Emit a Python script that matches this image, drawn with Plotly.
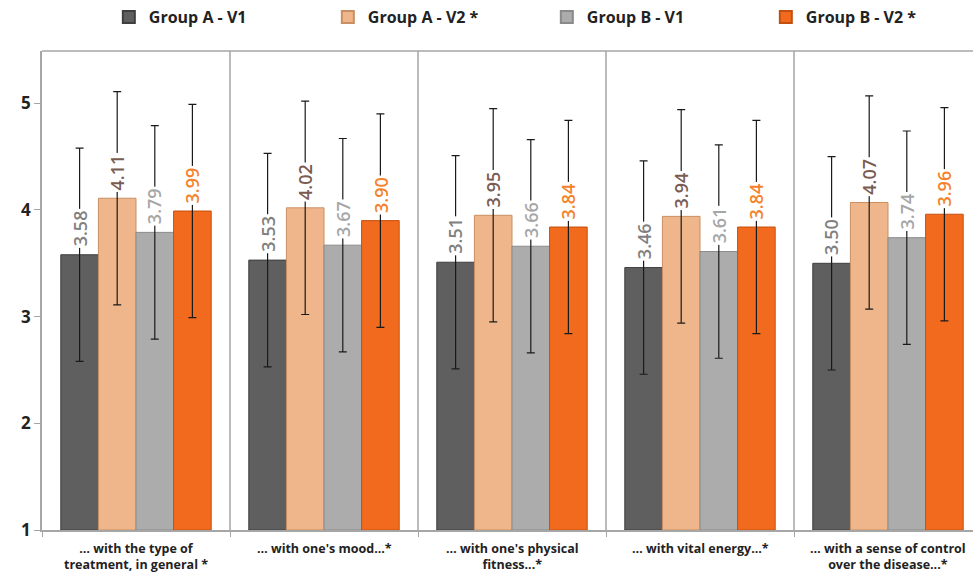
import plotly.graph_objects as go

categories = [
    "… with the type of<br>treatment, in general *",
    "… with one's mood...*",
    "… with one's physical<br>fitness...*",
    "… with vital energy...*",
    "… with a sense of control<br>over the disease...*",
]
series_names = ["Group A - V1", "Group A - V2 *", "Group B - V1", "Group B - V2 *"]
group_a_v1 = [3.58, 3.53, 3.51, 3.46, 3.50]
group_a_v2 = [4.11, 4.02, 3.95, 3.94, 4.07]
group_b_v1 = [3.79, 3.67, 3.66, 3.61, 3.74]
group_b_v2 = [3.99, 3.90, 3.84, 3.84, 3.96]
error_sd = [1.0, 1.0, 1.0, 1.0, 1.0]
y_ticks = [1, 2, 3, 4, 5]

series_values = [group_a_v1, group_a_v2, group_b_v1, group_b_v2]
bar_colors = ["#5f5f5f", "#eeb68a", "#acacac", "#f26a1e"]
bar_lines = ["#3f3f3f", "#c98f63", "#8a8a8a", "#c4500f"]
label_colors = ["#808080", "#7a5b52", "#a6a6a6", "#f4822c"]

fig = go.Figure()
for name, vals, col, lc in zip(series_names, series_values, bar_colors, bar_lines):
    fig.add_trace(go.Bar(
        x=list(range(len(categories))), y=[v - 1 for v in vals], base=1,
        name=name,
        marker=dict(color=col, line=dict(color=lc, width=1)),
        error_y=dict(type="data", array=error_sd, color="#1a1a1a", thickness=1.2, width=4),
        hoverinfo="skip",
    ))

n = len(series_values)
bar_w = 0.8 / n
for j, (vals, tc) in enumerate(zip(series_values, label_colors)):
    for i, v in enumerate(vals):
        fig.add_annotation(
            x=i + (j - (n - 1) / 2) * bar_w, y=v, xref="x", yref="y",
            text=f"{v:.2f}", textangle=-90, showarrow=False,
            yanchor="bottom", yshift=6, bgcolor="white", borderpad=1,
            font=dict(family="Open Sans, Arial", size=18, color=tc, weight=600),
        )

# category labels under the axis
for i, c in enumerate(categories):
    fig.add_annotation(
        x=i, y=0, xref="x", yref="paper", text=c, showarrow=False,
        yanchor="top", yshift=-8, align="center",
        font=dict(family="Open Sans, Arial", size=12.5, color="#222222", weight="bold"),
    )

# category separators and top border
for k in range(len(categories) - 1):
    fig.add_shape(type="line", xref="x", yref="paper", x0=k + 0.5, x1=k + 0.5, y0=0, y1=1,
                  line=dict(color="#a6a6a6", width=1.5), layer="below")
fig.add_shape(type="line", xref="paper", yref="paper", x0=0, x1=1, y0=1, y1=1,
              line=dict(color="#a6a6a6", width=1.5))

fig.update_layout(
    width=973, height=573,
    margin=dict(l=42, r=0, t=51, b=43, autoexpand=False),
    paper_bgcolor="white", plot_bgcolor="white",
    barmode="group", bargap=0.2, bargroupgap=0,
    showlegend=True,
    legend=dict(orientation="h", x=0.562, xanchor="center", y=0.97, yanchor="middle",
                yref="container", xref="container",
                entrywidth=174, entrywidthmode="pixels",
                font=dict(family="Open Sans, Arial", size=16, color="#222222", weight="bold"),
                itemsizing="constant"),
    font=dict(family="Open Sans, Arial", color="#222222"),
    xaxis=dict(
        tickmode="array", tickvals=[k + 0.5 for k in range(-1, len(categories))],
        ticktext=[""] * (len(categories) + 1),
        range=[-0.5, -0.5 + 931 / 188],
        showline=True, linecolor="#a6a6a6", linewidth=1.5,
        ticks="outside", ticklen=5, tickcolor="#a6a6a6", showgrid=False,
        zeroline=False,
    ),
    yaxis=dict(
        range=[1, 5.49], tickvals=y_ticks,
        showline=True, linecolor="#a6a6a6", linewidth=1.5,
        ticks="outside", ticklen=6, tickcolor="#a6a6a6", showgrid=False,
        tickfont=dict(family="Open Sans, Arial", size=17, color="#222222", weight="bold"),
        zeroline=False,
    ),
)

fig.write_html("out.html", config={"displayModeBar": False},
               post_script="document.body.style.margin='0';document.body.style.overflow='hidden';")
